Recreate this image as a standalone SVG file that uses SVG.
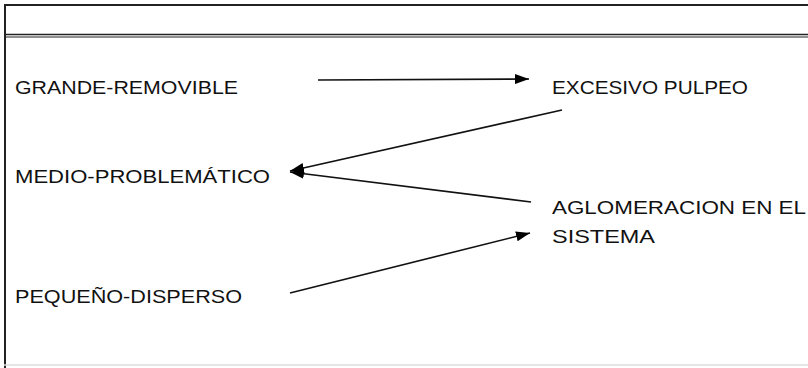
<svg xmlns="http://www.w3.org/2000/svg" width="808" height="368" viewBox="0 0 808 368">
<defs>
<marker id="ah" viewBox="0 0 14 10" refX="14" refY="5" markerWidth="14" markerHeight="10" markerUnits="userSpaceOnUse" orient="auto">
<path d="M0,0 L14,5 L0,10 Z" fill="#000"/>
</marker>
</defs>
<style>
.t{font-family:"Liberation Sans","DejaVu Sans",sans-serif;font-size:19px;fill:#111;}
.c{stroke:#111;stroke-width:1.6;fill:none;}
.f{stroke:#222;fill:none;}
</style>
<rect width="808" height="368" fill="#fff"/>
<g id="frame">
<line class="f" x1="4" y1="5" x2="808" y2="5" stroke-width="2"/>
<line class="f" x1="4" y1="34.5" x2="808" y2="34.5" stroke-width="1.5"/>
<line class="f" x1="4" y1="37" x2="808" y2="37" stroke-width="1.2" stroke="#555"/>
<line class="f" x1="5" y1="4" x2="5" y2="368" stroke-width="2"/>
<line x1="4" y1="365" x2="808" y2="365" stroke="#ddd" stroke-width="1.5"/>
</g>
<g id="n-grande"><text class="t" x="15" y="94" textLength="223" lengthAdjust="spacingAndGlyphs">GRANDE-REMOVIBLE</text></g>
<g id="n-medio"><text class="t" x="15" y="183" textLength="255" lengthAdjust="spacingAndGlyphs">MEDIO-PROBLEMÁTICO</text></g>
<g id="n-pequeno"><text class="t" x="15" y="303" textLength="227" lengthAdjust="spacingAndGlyphs">PEQUEÑO-DISPERSO</text></g>
<g id="n-excesivo"><text class="t" x="552" y="94" textLength="196" lengthAdjust="spacingAndGlyphs">EXCESIVO PULPEO</text></g>
<g id="n-aglomeracion">
<text class="t" x="552" y="214" textLength="254" lengthAdjust="spacingAndGlyphs">AGLOMERACION EN EL</text>
<text class="t" x="552" y="243" textLength="103" lengthAdjust="spacingAndGlyphs">SISTEMA</text>
</g>
<g id="connectors">
<line class="c" x1="318" y1="80" x2="529" y2="79" marker-end="url(#ah)"/>
<line class="c" x1="562" y1="110" x2="290" y2="171" marker-end="url(#ah)"/>
<line class="c" x1="531" y1="202" x2="290" y2="172" marker-end="url(#ah)"/>
<line class="c" x1="290" y1="293" x2="530" y2="233" marker-end="url(#ah)"/>
</g>
</svg>
